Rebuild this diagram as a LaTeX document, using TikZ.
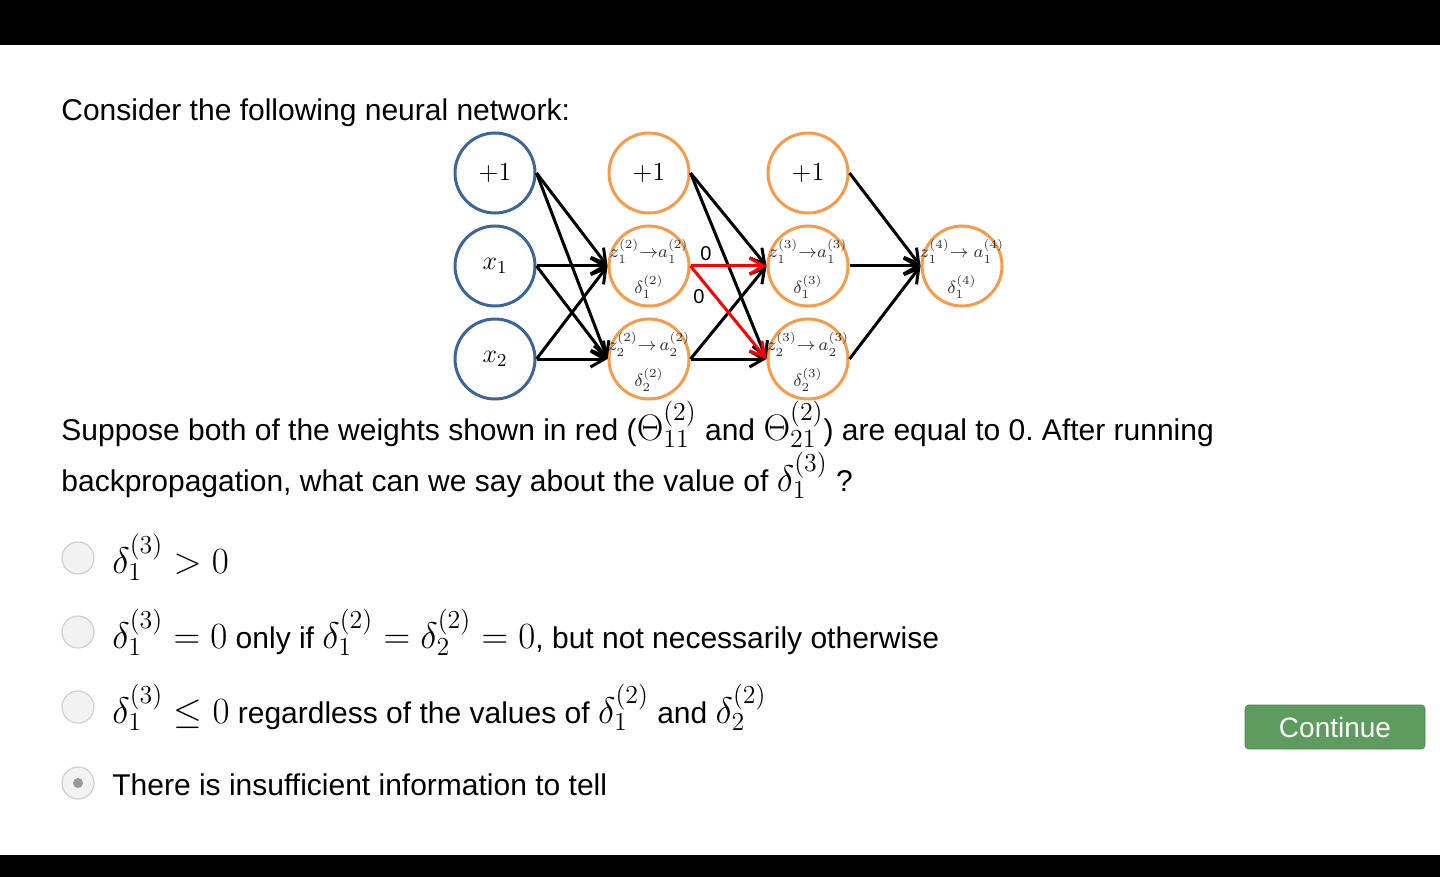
\RequirePackage{fix-cm}
\documentclass[tikz,border=0pt]{standalone}
\usepackage[no-math]{fontspec}
\setmainfont{Liberation Sans}
\usetikzlibrary{arrows.meta}
\definecolor{nnblue}{HTML}{3C6598}
\definecolor{nnorange}{HTML}{F79A4A}
\definecolor{btngreen}{HTML}{5E9B5E}
\definecolor{btnborder}{HTML}{4C864C}
\definecolor{radiofill}{HTML}{F2F2F2}
\definecolor{radioedge}{HTML}{D0D0D0}
\newcommand\qm[1]{{\fontsize{18.5}{20}\selectfont$#1$}}
\frenchspacing
\begin{document}
\begin{tikzpicture}[x=0.5pt,y=-0.5pt,
  inode/.style={circle,draw=nnblue,line width=1.5pt,minimum size=40pt,inner sep=0pt,font=\fontsize{13}{15}\selectfont},
  hnode/.style={circle,draw=nnorange,line width=1.5pt,minimum size=40pt,inner sep=0pt,font=\fontsize{13}{15}\selectfont},
  ntext/.style={align=center,inner sep=0pt,text=black!80,font=\fontsize{8.8}{10}\selectfont},
  wire/.style={line width=1.5pt,-{Straight Barb[length=7pt,width=8pt]}},
  redwire/.style={wire,draw=red},
  wlabel/.style={inner sep=0pt,font=\fontsize{10}{12}\selectfont},
  body/.style={anchor=base west,inner sep=0pt,font=\fontsize{15}{18}\selectfont},
  radio/.style={circle,draw=radioedge,fill=radiofill,line width=0.6pt,minimum size=16pt,inner sep=0pt},
  radiodot/.style={circle,fill=black!40,minimum size=5pt,inner sep=0pt},
  button/.style={draw=btnborder,fill=btngreen,rounded corners=2pt,minimum width=90pt,minimum height=22pt,inner sep=0pt,text=white,font=\fontsize{14}{16}\selectfont}
]
\path[use as bounding box] (0,0) rectangle (1440,877);
\fill[white] (0,0) rectangle (1440,877);
\fill[black] (0,0) rectangle (1440,45);
\fill[black] (0,855) rectangle (1440,877);

\node[body] (intro) at (61,121) {Consider the following neural network:};

% layer 1
\node[inode] (in1) at (495,173) {$+1$};
\node[inode] (in2) at (495,266) {$x_1$};
\node[inode] (in3) at (495,359) {$x_2$};
% layer 2
\node[hnode] (h1b) at (649,173) {$+1$};
\node[hnode] (h11) at (649,266) {};
\node[hnode] (h12) at (649,359) {};
% layer 3
\node[hnode] (g1b) at (808,173) {$+1$};
\node[hnode] (g11) at (808,266) {};
\node[hnode] (g12) at (808,359) {};
% layer 4
\node[hnode] (o1) at (962,266) {};

\node[ntext] (t11) at ([yshift=-1.5pt]h11) {$z_1^{(2)}{\to}a_1^{(2)}$\\[5pt]$\delta_1^{(2)}$};
\node[ntext] (t12) at ([yshift=-1.5pt]h12) {$z_2^{(2)}{\to}\,a_2^{(2)}$\\[5pt]$\delta_2^{(2)}$};
\node[ntext] (t21) at ([yshift=-1.5pt]g11) {$z_1^{(3)}{\to}a_1^{(3)}$\\[5pt]$\delta_1^{(3)}$};
\node[ntext] (t22) at ([yshift=-1.5pt]g12) {$z_2^{(3)}{\to}\,a_2^{(3)}$\\[5pt]$\delta_2^{(3)}$};
\node[ntext] (t31) at ([yshift=-1.5pt]o1) {$z_1^{(4)}{\to}\;a_1^{(4)}$\\[5pt]$\delta_1^{(4)}$};

% connectors layer 1 -> 2
\foreach \s in {in1,in2,in3}{
  \draw[wire] (\s.east) -- (h11.west);
  \draw[wire] (\s.east) -- (h12.west);
}
% layer 2 -> 3
\draw[wire] (h1b.east) -- (g11.west);
\draw[wire] (h1b.east) -- (g12.west);
\draw[wire] (h12.east) -- (g11.west);
\draw[wire] (h12.east) -- (g12.west);
\draw[redwire] (h11.east) -- (g11.west);
\draw[redwire] (h11.east) -- (g12.west);
% layer 3 -> 4
\draw[wire] (g1b.east) -- (o1.west);
\draw[wire] (g11.east) -- (o1.west);
\draw[wire] (g12.east) -- (o1.west);

\node[wlabel] (w1) at (706,254) {0};
\node[wlabel] (w2) at (699,297) {0};

\node[body] (q1) at (61,440) {Suppose both of the weights shown in red (\qm{\Theta_{11}^{(2)}} and \qm{\Theta_{21}^{(2)}}) are equal to 0. After running};
\node[body] (q2) at (61,491) {backpropagation, what can we say about the value of \qm{\delta_1^{(3)}} ?};

\node[radio] (r1) at (78,558) {};
\node[radio] (r2) at (78,632) {};
\node[radio] (r3) at (78,707) {};
\node[radio] (r4) at (78,783) {};
\node[radiodot] (r4d) at (r4) {};

\node[body] (o1t) at (112,573) {\qm{\delta_1^{(3)} > 0}};
\node[body] (o2t) at (112,648) {\qm{\delta_1^{(3)} = 0} only if \qm{\delta_1^{(2)} = \delta_2^{(2)} = 0}, but not necessarily otherwise};
\node[body] (o3t) at (112,723) {\qm{\delta_1^{(3)} \le 0} regardless of the values of \qm{\delta_1^{(2)}} and \qm{\delta_2^{(2)}}};
\node[body] (o4t) at (112,795) {There is insufficient information to tell};

\node[button] (cont) at (1335,727) {Continue};
\end{tikzpicture}
\end{document}
